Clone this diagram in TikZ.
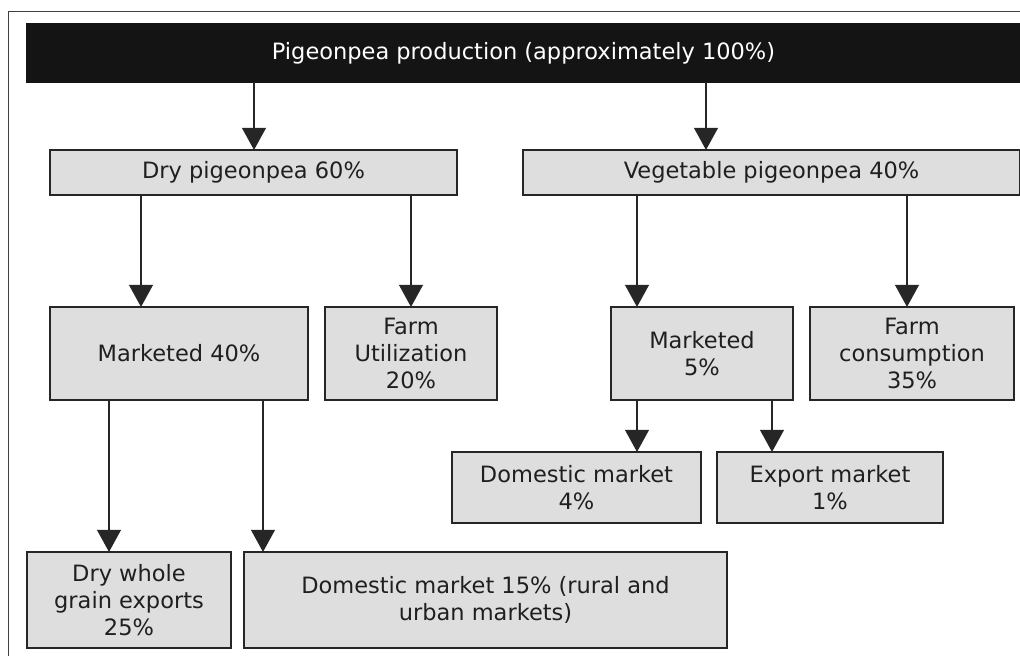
\documentclass[tikz,border=0pt]{standalone}
\usepackage{fontspec}
\setmainfont{DejaVu Sans}
\usetikzlibrary{arrows.meta}
\definecolor{boxgray}{HTML}{DEDEDE}
\definecolor{bargray}{HTML}{141414}
\definecolor{linegray}{HTML}{262626}
\tikzset{
	box/.style={draw=linegray, fill=boxgray, line width=1.4pt, inner sep=0pt, outer sep=0pt,
		align=center, text=black!88, font=\fontsize{16}{19.4}\selectfont},
	topbar/.style={box, draw=bargray, fill=bargray, text=white},
	flow/.style={draw=linegray, line width=1.4pt, -{Triangle[width=5.9mm,length=5.5mm]}},
}
\begin{document}
\begin{tikzpicture}[x=0.025cm, y=-0.025cm]

			\useasboundingbox (0,0) rectangle (1020,656);
			\draw [gray!50!black, line width=0.7pt] (8,656) |- (1020,11);

			\node [topbar, minimum width=24.825cm, minimum height=1.45cm] (prod) at (523.5,53) {Pigeonpea production (approximately 100\%)};
			\node [box, minimum width=10.175cm, minimum height=1.125cm] (dry) at (253.5,172.5) {Dry pigeonpea 60\%};
			\node [box, minimum width=12.425cm, minimum height=1.125cm] (veg) at (771.5,172.5) {Vegetable pigeonpea 40\%};

			\node [box, minimum width=6.45cm, minimum height=2.325cm] (drymkt) at (179,353.5) {Marketed 40\%};
			\node [box, minimum width=4.3cm, minimum height=2.325cm] (dryfarm) at (411,353.5) {Farm\\Utilization\\20\%};
			\node [box, minimum width=4.55cm, minimum height=2.325cm] (vegmkt) at (702,353.5) {Marketed\\5\%};
			\node [box, minimum width=5.1cm, minimum height=2.325cm] (vegfarm) at (912,353.5) {Farm\\consumption\\35\%};

			\node [box, minimum width=6.225cm, minimum height=1.775cm] (vegdom) at (576.5,487.5) {Domestic market\\4\%};
			\node [box, minimum width=5.65cm, minimum height=1.775cm] (vegexp) at (830,487.5) {Export market\\1\%};

			\node [box, minimum width=5.1cm, minimum height=2.4cm] (dryexp) at (129,600) {Dry whole\\grain exports\\25\%};
			\node [box, minimum width=12.075cm, minimum height=2.4cm] (drydom) at (485.5,600) {Domestic market 15\% (rural and\\urban markets)};

			\draw [flow] (prod.south -| 254,0) -- (dry.north -| 254,0);
			\draw [flow] (prod.south -| 706,0) -- (veg.north -| 706,0);
			\draw [flow] (dry.south -| 141,0) -- (drymkt.north -| 141,0);
			\draw [flow] (dry.south -| 411,0) -- (dryfarm.north -| 411,0);
			\draw [flow] (veg.south -| 637,0) -- (vegmkt.north -| 637,0);
			\draw [flow] (veg.south -| 907,0) -- (vegfarm.north -| 907,0);
			\draw [flow] (drymkt.south -| 109,0) -- (dryexp.north -| 109,0);
			\draw [flow] (drymkt.south -| 263,0) -- (drydom.north -| 263,0);
			\draw [flow] (vegmkt.south -| 637,0) -- (vegdom.north -| 637,0);
			\draw [flow] (vegmkt.south -| 772,0) -- (vegexp.north -| 772,0);
		\end{tikzpicture}
\end{document}
